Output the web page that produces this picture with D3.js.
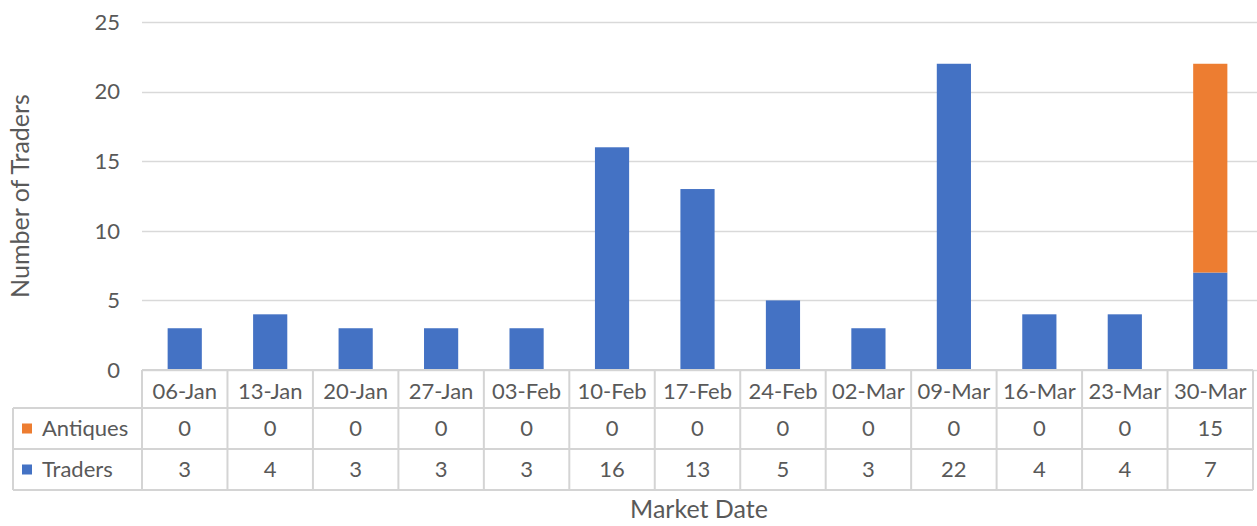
<!DOCTYPE html>
<html>
<head>
<meta charset="utf-8">
<script src="https://cdn.jsdelivr.net/npm/d3@7"></script>
<style>
body{margin:0;background:#fff;}
text{font-family:Lato,"Open Sans",sans-serif;fill:#595959;}
</style>
</head>
<body>
<div id="container"></div>
<script>
var width = 1257;
var height = 526;

// data
var dates = ["06-Jan","13-Jan","20-Jan","27-Jan","03-Feb","10-Feb","17-Feb","24-Feb","02-Mar","09-Mar","16-Mar","23-Mar","30-Mar"];
var traders = [3,4,3,3,3,16,13,5,3,22,4,4,7];
var antiques = [0,0,0,0,0,0,0,0,0,0,0,0,15];
var yTicks = [0,5,10,15,20,25];
var colours = {Traders:"#4472C4", Antiques:"#ED7D31"};

var plotLeft = 142, plotRight = 1253, plotTop = 22, plotBase = 370;
var rowH = [38, 41, 41];
var legendLeft = 13;

var svg = d3.select('div#container')
	.append('svg')
	.attr('width', width)
	.attr('height', height);

var x = d3.scaleBand().domain(dates).range([plotLeft, plotRight]).paddingInner(0).paddingOuter(0);
var y = d3.scaleLinear().domain([0,25]).range([plotBase, plotTop]);

// gridlines
svg.append('g').selectAll('line')
	.data(yTicks)
	.enter()
	.append('line')
	.attr('x1', plotLeft)
	.attr('x2', width)
	.attr('y1', function(d){return Math.round(y(d))+0.5;})
	.attr('y2', function(d){return Math.round(y(d))+0.5;})
	.attr('stroke', '#d9d9d9')
	.attr('stroke-width', 1.5);

// y tick labels
svg.append('g').selectAll('text')
	.data(yTicks)
	.enter()
	.append('text')
	.attr('x', 120)
	.attr('y', function(d){return y(d);})
	.attr('dy', '0.35em')
	.attr('text-anchor', 'end')
	.style('font-size', '22px')
	.text(function(d){return d;});

// stacked bars
var rows = dates.map(function(d,i){return {date:d, Traders:traders[i], Antiques:antiques[i]};});
var stack = d3.stack().keys(["Traders","Antiques"])(rows);
var barW = x.bandwidth()*0.4;

svg.append('g').selectAll('g')
	.data(stack)
	.enter()
	.append('g')
	.attr('fill', function(d){return colours[d.key];})
	.selectAll('rect')
	.data(function(d){return d;})
	.enter()
	.append('rect')
	.attr('x', function(d){return x(d.data.date)+(x.bandwidth()-barW)/2;})
	.attr('y', function(d){return y(d[1]);})
	.attr('width', barW)
	.attr('height', function(d){return y(d[0])-y(d[1]);});

// data table
var tbl = svg.append('g');
var gridCol = '#d4d4d4';
var r0 = plotBase, r1 = plotBase+rowH[0], r2 = r1+rowH[1], r3 = r2+rowH[2];

// horizontal lines
tbl.append('line').attr('x1', plotLeft).attr('x2', plotRight).attr('y1', r0).attr('y2', r0);
[r1, r2, r3].forEach(function(yy){
	tbl.append('line').attr('x1', legendLeft).attr('x2', plotRight).attr('y1', yy).attr('y2', yy);
});
// vertical lines
var vx = dates.map(function(d){return x(d);}).concat([plotRight]);
vx.forEach(function(xx){
	tbl.append('line').attr('x1', xx).attr('x2', xx).attr('y1', r0).attr('y2', r3);
});
tbl.append('line').attr('x1', legendLeft).attr('x2', legendLeft).attr('y1', r1).attr('y2', r3);
tbl.selectAll('line').attr('stroke', gridCol).attr('stroke-width', 2);

// header labels
tbl.append('g').selectAll('text')
	.data(dates)
	.enter()
	.append('text')
	.attr('x', function(d){return x(d)+x.bandwidth()/2;})
	.attr('y', (r0+r1)/2+2)
	.attr('dy', '0.35em')
	.attr('text-anchor', 'middle')
	.style('font-size', '22px')
	.text(function(d){return d;});

// value rows
var rowData = [{name:"Antiques", vals:antiques, y0:r1, y1:r2}, {name:"Traders", vals:traders, y0:r2, y1:r3}];
rowData.forEach(function(r){
	var g = tbl.append('g');
	g.selectAll('text')
		.data(r.vals)
		.enter()
		.append('text')
		.attr('x', function(d,i){return x(dates[i])+x.bandwidth()/2;})
		.attr('y', (r.y0+r.y1)/2)
		.attr('dy', '0.35em')
		.attr('text-anchor', 'middle')
		.style('font-size', '22px')
		.text(function(d){return d;});
	g.append('rect')
		.attr('x', 22)
		.attr('y', (r.y0+r.y1)/2-5)
		.attr('width', 10)
		.attr('height', 10)
		.attr('fill', colours[r.name]);
	g.append('text')
		.attr('x', 42)
		.attr('y', (r.y0+r.y1)/2)
		.attr('dy', '0.35em')
		.style('font-size', '22px')
		.text(r.name);
});

// axis titles
svg.append('text')
	.attr('transform', 'translate(20,196) rotate(-90)')
	.attr('dy', '0.35em')
	.attr('text-anchor', 'middle')
	.style('font-size', '25px')
	.text('Number of Traders');

svg.append('text')
	.attr('x', 699)
	.attr('y', 509)
	.attr('dy', '0.35em')
	.attr('text-anchor', 'middle')
	.style('font-size', '25px')
	.text('Market Date');
</script>
</body>
</html>
